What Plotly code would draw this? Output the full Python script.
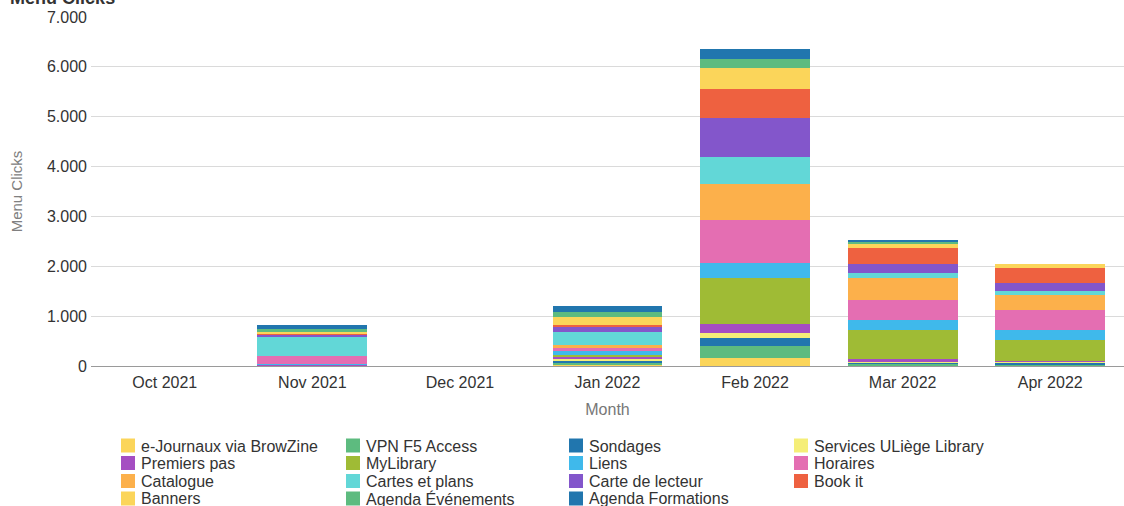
import plotly.graph_objects as go

months = ["Oct 2021", "Nov 2021", "Dec 2021", "Jan 2022", "Feb 2022", "Mar 2022", "Apr 2022"]

series_names = [
    "e-Journaux via BrowZine", "VPN F5 Access", "Sondages", "Services ULiège Library",
    "Premiers pas", "MyLibrary", "Liens", "Horaires",
    "Catalogue", "Cartes et plans", "Carte de lecteur", "Book it",
    "Banners", "Agenda Événements", "Agenda Formations",
]

e_journaux = [0, 0, 0, 30, 154, 10, 5]
vpn_f5 = [0, 5, 0, 40, 247, 30, 15]
sondages = [0, 5, 0, 40, 154, 40, 50]
services_uliege = [0, 0, 0, 50, 113, 20, 20]
premiers_pas = [0, 10, 0, 15, 180, 33, 20]
mylibrary = [0, 10, 0, 50, 922, 590, 420]
liens = [0, 20, 0, 70, 288, 200, 187]
horaires = [0, 160, 0, 60, 862, 410, 401]
catalogue = [0, 0, 0, 65, 722, 430, 314]
cartes_plans = [0, 380, 0, 270, 548, 100, 67]
carte_lecteur = [0, 50, 0, 100, 788, 187, 174]
book_it = [0, 10, 0, 30, 569, 315, 293]
banners = [0, 30, 0, 155, 433, 100, 73]
agenda_evenements = [0, 60, 0, 110, 180, 30, 0]
agenda_formations = [0, 80, 0, 115, 190, 40, 0]

series_values = [
    e_journaux, vpn_f5, sondages, services_uliege,
    premiers_pas, mylibrary, liens, horaires,
    catalogue, cartes_plans, carte_lecteur, book_it,
    banners, agenda_evenements, agenda_formations,
]

colors = [
    "#FBD55A", "#5DBB7F", "#2176AE", "#F5EE78",
    "#A54EC2", "#9FBB35", "#3FB9EB", "#E46EB2",
    "#FCB04B", "#62D7D7", "#8356CB", "#EE6140",
    "#FBD55A", "#5DBB7F", "#2176AE",
]

y_ticks = [0, 1000, 2000, 3000, 4000, 5000, 6000, 7000]

W, H = 1124, 506
ML, MR, MT, MB = 91, 0, 17, 140
PW, PH = W - ML - MR, H - MT - MB


def px_x(px):
    return (px - ML) / PW


def px_y(py):
    return (H - MB - py) / PH


fig = go.Figure()
for name, vals, col in zip(series_names, series_values, colors):
    fig.add_trace(go.Bar(name=name, x=months, y=vals, showlegend=False,
                         marker=dict(color=col, line=dict(width=0))))

# Legend drawn as a 4-column grid (row-wise order, like the reference)
col_swatch_x = [121, 346, 569, 794]
row_center_y = [445.5, 463, 481, 498.5]
shapes = []
annotations = []
for i, (name, col) in enumerate(zip(series_names, colors)):
    r, c = divmod(i, 4)
    sx = col_swatch_x[c]
    cy = row_center_y[r]
    shapes.append(dict(
        type="rect", xref="paper", yref="paper",
        x0=px_x(sx), x1=px_x(sx + 14), y0=px_y(cy + 7), y1=px_y(cy - 7),
        fillcolor=col, line=dict(width=0), layer="above",
    ))
    annotations.append(dict(
        xref="paper", yref="paper", x=px_x(sx + 18), y=px_y(cy + 0.5),
        xanchor="left", yanchor="middle", showarrow=False, text=name,
        font=dict(size=16, color="#333333"),
    ))

fig.update_layout(
    barmode="stack",
    bargap=0.255,
    width=W,
    height=H,
    paper_bgcolor="white",
    plot_bgcolor="white",
    separators=",.",
    font=dict(family="Liberation Sans, Arial, sans-serif", size=16, color="#333333"),
    margin=dict(l=ML, r=MR, t=MT, b=MB, autoexpand=False),
    showlegend=False,
    shapes=shapes,
    annotations=annotations,
    title=dict(
        text="<b>Menu Clicks</b>",
        x=0.009, xanchor="left", xref="container",
        y=1 - 4 / H, yanchor="bottom", yref="container",
        font=dict(size=18, color="#333333"),
    ),
    xaxis=dict(
        showgrid=False,
        showline=True,
        linecolor="#9A9A9A",
        linewidth=1,
        ticks="",
        automargin=False,
        ticklabelstandoff=2,
        tickfont=dict(size=16, color="#333333"),
        title=dict(text="Month", font=dict(size=16, color="#777777"), standoff=13),
    ),
    yaxis=dict(
        range=[0, 7000],
        tickvals=y_ticks,
        tickformat=",.0f",
        showgrid=True,
        gridcolor="#DADADA",
        zeroline=False,
        automargin=False,
        ticks="",
        ticklabelstandoff=3,
        tickfont=dict(size=16, color="#333333"),
        title=dict(text="Menu Clicks", font=dict(size=15, color="#808080"), standoff=20),
    ),
)

fig.write_html(
    "out.html",
    config={"displayModeBar": False},
    post_script="document.body.style.margin='0px';document.body.style.overflow='hidden';",
)
